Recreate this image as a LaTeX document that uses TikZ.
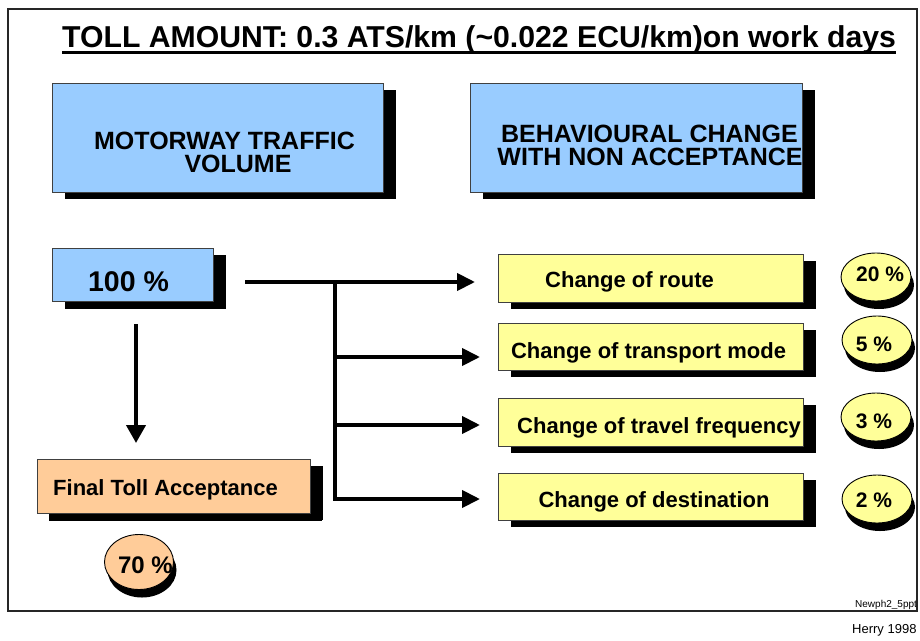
\documentclass[tikz,border=0pt]{standalone}
\usepackage{fontspec}
\setmainfont{Liberation Sans}
\usetikzlibrary{arrows.meta,shapes.geometric,shadows}
\definecolor{lblue}{HTML}{99CCFF}
\definecolor{lorange}{HTML}{FFCC99}
\definecolor{lyellow}{HTML}{FFFF99}
\definecolor{edge}{HTML}{404040}
\begin{document}
\begin{tikzpicture}[x=1pt,y=-1pt,
  box/.style={rectangle, draw=edge, line width=0.9pt, inner sep=0pt,
    drop shadow={shadow xshift=13pt, shadow yshift=-7pt, opacity=1, fill=black}},
  oval/.style={ellipse, draw=black, line width=0.9pt, inner sep=0pt,
    minimum width=70pt, minimum height=48pt,
    drop shadow={shadow xshift=3pt, shadow yshift=-8pt, opacity=1, fill=black}},
  txt/.style={anchor=base, inner sep=0pt, font=\bfseries\fontsize{22}{24}\selectfont},
  bigtxt/.style={anchor=base, inner sep=0pt, font=\bfseries\fontsize{25}{27}\selectfont},
  pct/.style={anchor=base, inner sep=0pt, font=\bfseries\fontsize{21}{23}\selectfont},
  arr/.style={line width=4pt, -{Triangle[length=18pt,width=17pt]}}]
\useasboundingbox (0,0) rectangle (920,640);
\fill[white] (0,0) rectangle (920,640);

% title
\node[anchor=base west, inner sep=0pt, font=\bfseries\fontsize{30.2}{32}\selectfont] (title) at (62,47)
  {TOLL AMOUNT: 0.3 ATS/km (\textasciitilde 0.022 ECU/km)on work days};
\draw[line width=3pt] ([yshift=-5pt]title.base west) -- ([yshift=-5pt]title.base east);

% header boxes
\node[box, fill=lblue, minimum width=331pt, minimum height=109pt] (mtv) at (217.5,137.5) {};
\node[bigtxt] (mtv1) at (224.5,149) {MOTORWAY TRAFFIC};
\node[bigtxt] (mtv2) at (238,172) {VOLUME};
\node[box, fill=lblue, minimum width=332pt, minimum height=109pt] (bnc) at (636,137.5) {};
\node[bigtxt] (bnc1) at (649.5,142) {BEHAVIOURAL CHANGE};
\node[bigtxt] (bnc2) at (650,165) {WITH NON ACCEPTANCE};

% 100 % box
\node[box, fill=lblue, minimum width=161pt, minimum height=53pt,
  drop shadow={shadow xshift=13pt, shadow yshift=-8pt, opacity=1, fill=black}] (p100) at (132.5,274.5) {};
\node[anchor=base, inner sep=0pt, font=\bfseries\fontsize{28.5}{30}\selectfont] (p100t) at (128.5,291) {100 \%};

% final toll acceptance
\node[box, fill=lorange, minimum width=273pt, minimum height=54pt,
  drop shadow={shadow xshift=12pt, shadow yshift=-8pt, opacity=1, fill=black}] (fta) at (173.5,486) {};
\node[txt] (ftat) at (165.5,495) {Final Toll Acceptance};
\node[oval, fill=lorange, minimum width=69pt, minimum height=55pt] (e70) at (139,562) {};
\node[anchor=base, inner sep=0pt, font=\bfseries\fontsize{24}{26}\selectfont] (e70t) at (145.5,573) {70 \%};

% change boxes
\node[box, fill=lyellow, minimum width=305pt, minimum height=48pt] (r1) at (650.5,278) {};
\node[txt] (r1t) at (629.5,287) {Change of route};
\node[box, fill=lyellow, minimum width=305pt, minimum height=47pt] (r2) at (650.5,346.5) {};
\node[txt] (r2t) at (648.5,358) {Change of transport mode};
\node[box, fill=lyellow, minimum width=305pt, minimum height=48pt] (r3) at (650.5,422) {};
\node[txt] (r3t) at (659,433) {Change of travel frequency};
\node[box, fill=lyellow, minimum width=305pt, minimum height=47pt] (r4) at (650.5,496.5) {};
\node[txt] (r4t) at (654,507) {Change of destination};

% percentage ovals
\node[oval, fill=lyellow] (e20) at (876,277) {};
\node[pct] (e20t) at (880,281) {20 \%};
\node[oval, fill=lyellow] (e5) at (877,340) {};
\node[pct] (e5t) at (874,351) {5 \%};
\node[oval, fill=lyellow] (e3) at (876,417) {};
\node[pct] (e3t) at (874,428) {3 \%};
\node[oval, fill=lyellow] (e2) at (877,499) {};
\node[pct] (e2t) at (874,507) {2 \%};

% connectors
\coordinate (s) at (245,282);
\coordinate (j) at (335,282);
\coordinate (b2) at (335,357);
\coordinate (b3) at (335,425);
\coordinate (t1) at (475,282);
\coordinate (t2) at (480,357);
\coordinate (t3) at (480,425);
\coordinate (t4) at (480,499);
\draw[arr] (s) -- (t1);
\draw[arr] (j) |- (t4);
\draw[arr] (b2) -- (t2);
\draw[arr] (b3) -- (t3);
\coordinate (d1) at (136,324);
\coordinate (d2) at (136,443);
\draw[line width=4pt, -{Triangle[length=18pt,width=19pt]}] (d1) -- (d2);

% footer
\node[anchor=base west, inner sep=0pt, font=\fontsize{10}{12}\selectfont] (fn) at (855,607) {Newph2\_5ppt};
\node[anchor=base west, inner sep=0pt, font=\fontsize{13}{15}\selectfont] (hy) at (852,633) {Herry 1998};

% frame
\draw[line width=2pt, draw=black!85] (8,9) rectangle (917,611);
\end{tikzpicture}
\end{document}
